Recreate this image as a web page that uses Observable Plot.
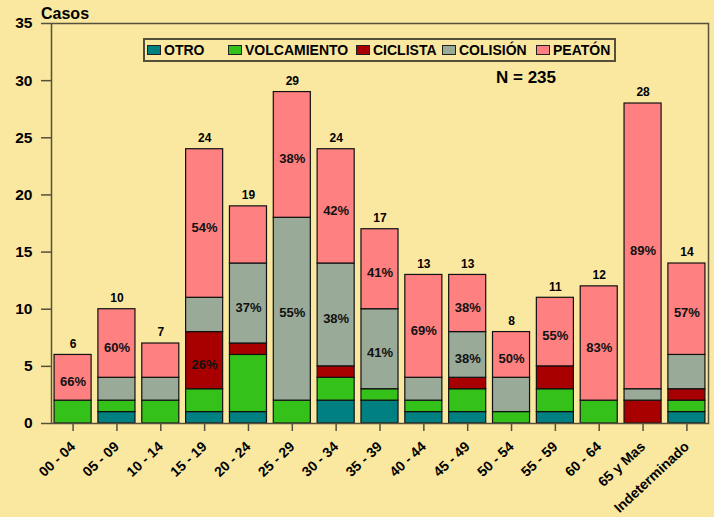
<!DOCTYPE html>
<html><head><meta charset="utf-8">
<script src="https://cdn.jsdelivr.net/npm/d3@7"></script>
<script src="https://cdn.jsdelivr.net/npm/@observablehq/plot@0.6"></script>
<style>
body{margin:0;background:#FAE8A0;}
#wrap{position:relative;width:714px;height:517px;font-family:"Liberation Sans",Arial,sans-serif;font-weight:bold;color:#000;}
#wrap svg{position:absolute;left:0;top:0;}
.ttl{position:absolute;left:41px;top:5px;font-size:16px;}
.nn{position:absolute;left:496px;top:68px;font-size:17px;}
.leg{position:absolute;left:143px;top:38px;width:469px;height:20px;border:2px solid #55503c;}
.item{position:absolute;top:0;height:20px;line-height:21px;font-size:14px;white-space:nowrap;}
.sw{display:inline-block;width:12px;height:8px;border:1px solid #222;margin-right:3px;vertical-align:0px;}
</style></head><body><div id="wrap"></div>
<script>
const categories = ["00 - 04","05 - 09","10 - 14","15 - 19","20 - 24","25 - 29","30 - 34","35 - 39","40 - 44","45 - 49","50 - 54","55 - 59","60 - 64","65 y Mas","Indeterminado"];
const series = ["OTRO","VOLCAMIENTO","CICLISTA","COLISIÓN","PEATÓN"];
const colors = ["#008080","#33C11A","#A80000","#99AA99","#FF8080"];
const otro        = [0,1,0,1,1,0,2,2,1,1,0,1,0,0,1];
const volcamiento = [2,1,2,2,5,2,2,1,1,2,1,2,2,0,1];
const ciclista    = [0,0,0,5,1,0,1,0,0,1,0,2,0,2,1];
const colision    = [0,2,2,3,7,16,9,7,2,4,3,0,0,1,3];
const peaton      = [4,6,3,13,5,11,10,7,9,5,4,6,10,25,8];
const yTicks = [0,5,10,15,20,25,30,35];
const pctCats   = ["00 - 04","05 - 09","15 - 19","15 - 19","20 - 24","25 - 29","25 - 29","30 - 34","30 - 34","35 - 39","35 - 39","40 - 44","45 - 49","45 - 49","50 - 54","55 - 59","60 - 64","65 y Mas","Indeterminado"];
const pctSeries = ["PEATÓN","PEATÓN","CICLISTA","PEATÓN","COLISIÓN","COLISIÓN","PEATÓN","COLISIÓN","PEATÓN","COLISIÓN","PEATÓN","PEATÓN","COLISIÓN","PEATÓN","PEATÓN","PEATÓN","PEATÓN","PEATÓN","PEATÓN"];
const pctTexts  = ["66%","60%","26%","54%","37%","55%","38%","38%","42%","41%","41%","69%","38%","38%","50%","55%","83%","89%","57%"];
const totalLabel = "N = 235";

const values = [otro, volcamiento, ciclista, colision, peaton];
const rows = [];
const totals = [];
categories.forEach((c, i) => {
  let acc = 0;
  series.forEach((s, k) => {
    const v = values[k][i];
    rows.push({cat: c, serie: s, y1: acc, y2: acc + v});
    acc += v;
  });
  totals.push({cat: c, total: acc});
});
const pcts = pctTexts.map((t, j) => {
  const r = rows.find(d => d.cat === pctCats[j] && d.serie === pctSeries[j]);
  return {cat: pctCats[j], y: (r.y1 + r.y2) / 2, text: t};
});

const font = '"Liberation Sans", Arial, sans-serif';
const chart = Plot.plot({
  width: 714, height: 517,
  marginLeft: 51, marginRight: 6, marginTop: 23, marginBottom: 94,
  style: {background: "transparent", fontFamily: font, fontWeight: "bold", color: "#000"},
  x: {domain: categories, paddingInner: 0.155, paddingOuter: 0.07, round: false, label: null},
  y: {domain: [0, 35], label: null},
  color: {domain: series, range: colors},
  marks: [
    Plot.barY(rows, {x: "cat", y1: "y1", y2: "y2", fill: "serie", stroke: "#111", strokeWidth: 1.2}),
    Plot.frame({stroke: "#55503c", strokeWidth: 1.5}),
    Plot.axisY({ticks: yTicks, tickSize: 10, tickPadding: 9, fontSize: 15.5, stroke: "#55503c", strokeWidth: 1.5, label: null}),
    Plot.axisX({tickSize: 8, tickPadding: 13, tickRotate: -43, fontSize: 14, stroke: "#55503c", strokeWidth: 1.5, label: null}),
    Plot.text(totals, {x: "cat", y: "total", text: d => String(d.total), dy: -11, fontSize: 12}),
    Plot.text(pcts, {x: "cat", y: "y", text: "text", dy: 4, fontSize: 13, fill: "#111"})
  ]
});
const wrap = document.getElementById("wrap");
wrap.appendChild(chart);

const t = document.createElement("div"); t.className = "ttl"; t.textContent = "Casos"; wrap.appendChild(t);
const n = document.createElement("div"); n.className = "nn"; n.textContent = totalLabel; wrap.appendChild(n);
const leg = document.createElement("div"); leg.className = "leg"; wrap.appendChild(leg);
const legLeft = [2, 83, 211, 297, 391];
series.forEach((s, k) => {
  const it = document.createElement("div"); it.className = "item"; it.style.left = legLeft[k] + "px";
  const sw = document.createElement("span"); sw.className = "sw"; sw.style.background = colors[k];
  it.appendChild(sw); it.appendChild(document.createTextNode(s));
  leg.appendChild(it);
});
</script></body></html>
